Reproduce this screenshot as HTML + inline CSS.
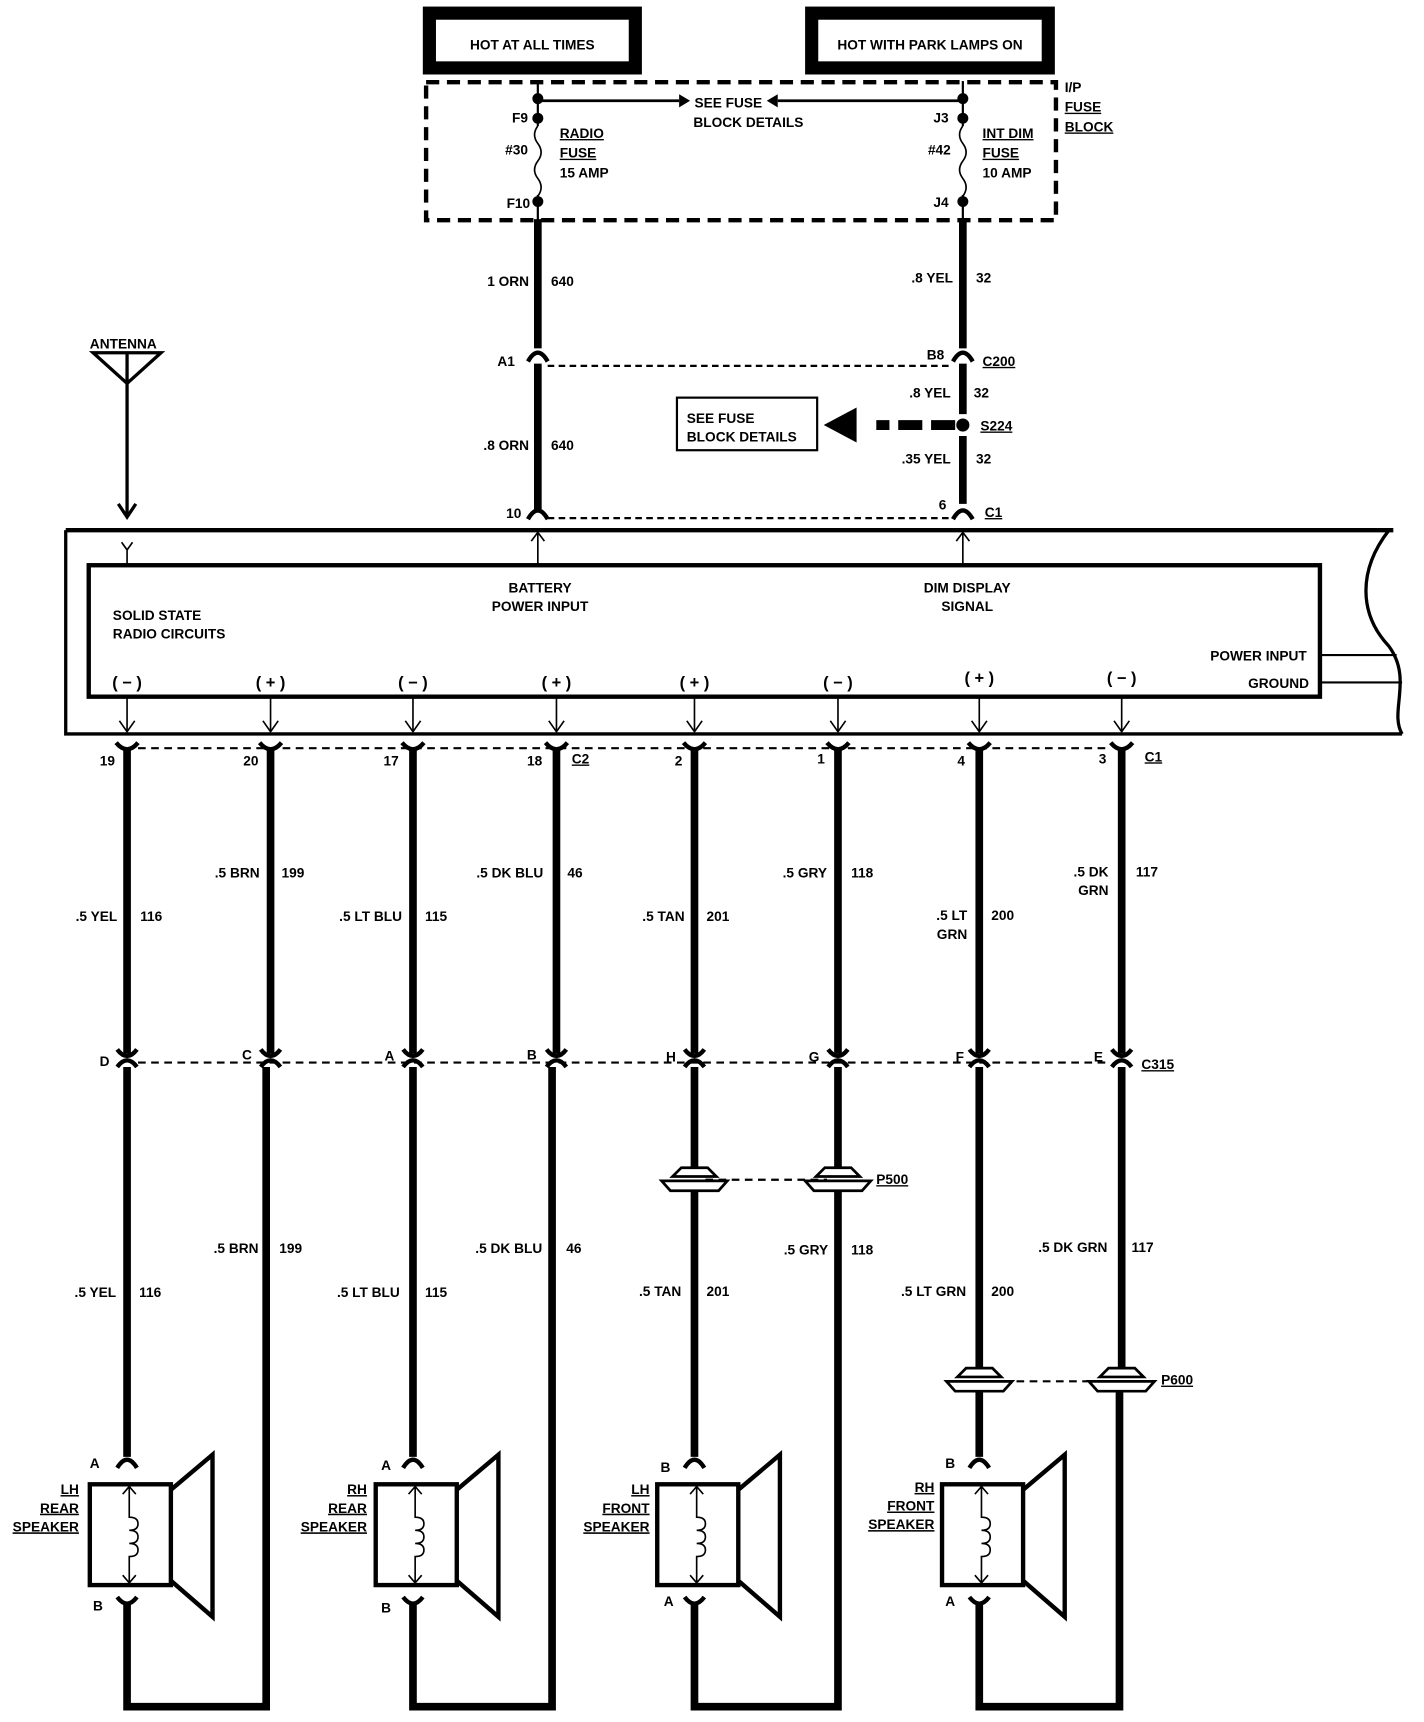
<!DOCTYPE html>
<html><head><meta charset="utf-8"><style>
html,body{margin:0;padding:0;background:#fff;}
svg{display:block;}
text{font-family:"Liberation Sans",sans-serif;font-weight:bold;font-size:12.5px;fill:#000;}
.u{text-decoration:underline;}
</style></head><body>
<svg width="1424" height="1722" viewBox="0 0 1300 1572" preserveAspectRatio="none" xmlns="http://www.w3.org/2000/svg">
<rect x="0" y="0" width="1300" height="1572" fill="#fff"/>
<!-- top boxes -->
<rect x="392" y="12" width="188" height="50" fill="none" stroke="#000" stroke-width="12"/>
<text x="486" y="45" text-anchor="middle">HOT AT ALL TIMES</text>
<rect x="741" y="12" width="216" height="50" fill="none" stroke="#000" stroke-width="12"/>
<text x="849" y="45" text-anchor="middle">HOT WITH PARK LAMPS ON</text>
<!-- fuse block -->
<rect x="389" y="75" width="575" height="126" fill="none" stroke="#000" stroke-width="4" stroke-dasharray="12,7"/>
<text x="972" y="84">I/P</text><text x="972" y="102" class="u">FUSE</text><text x="972" y="120" class="u">BLOCK</text>
<g stroke="#000" fill="none">
<line x1="491" y1="74" x2="491" y2="115" stroke-width="2"/>
<path d="M491 115 q-6 8 0 16 q6 8 0 16 q-6 8 0 16 q6 8 0 16" stroke-width="1.5"/>
<line x1="491" y1="178" x2="491" y2="202" stroke-width="2"/>
<line x1="879" y1="74" x2="879" y2="115" stroke-width="2"/>
<path d="M879 115 q-6 8 0 16 q6 8 0 16 q-6 8 0 16 q6 8 0 16" stroke-width="1.5"/>
<line x1="879" y1="178" x2="879" y2="202" stroke-width="2"/>
<line x1="491" y1="92" x2="620" y2="92" stroke-width="2.5"/>
<line x1="879" y1="92" x2="710" y2="92" stroke-width="2.5"/>
</g>
<polygon points="620,86 630,92 620,98" fill="#000"/>
<polygon points="710,86 700,92 710,98" fill="#000"/>
<g fill="#000"><circle cx="491" cy="90" r="5"/><circle cx="491" cy="108" r="5"/><circle cx="491" cy="184" r="5"/>
<circle cx="879" cy="90" r="5"/><circle cx="879" cy="108" r="5"/><circle cx="879" cy="184" r="5"/></g>
<text x="634" y="98">SEE FUSE</text><text x="633" y="116">BLOCK DETAILS</text>
<text x="482" y="112" text-anchor="end">F9</text><text x="482" y="141" text-anchor="end">#30</text><text x="484" y="190" text-anchor="end">F10</text>
<text x="511" y="126" class="u">RADIO</text><text x="511" y="144" class="u">FUSE</text><text x="511" y="162">15 AMP</text>
<text x="866" y="112" text-anchor="end">J3</text><text x="868" y="141" text-anchor="end">#42</text><text x="866" y="189" text-anchor="end">J4</text>
<text x="897" y="126" class="u">INT DIM</text><text x="897" y="144" class="u">FUSE</text><text x="897" y="162">10 AMP</text>
<!-- upper wires -->
<g stroke="#000" fill="none">
<line x1="491" y1="200" x2="491" y2="318" stroke-width="7"/>
<line x1="491" y1="332" x2="491" y2="468" stroke-width="7"/>
<line x1="879" y1="200" x2="879" y2="318" stroke-width="7"/>
<line x1="879" y1="332" x2="879" y2="378" stroke-width="7"/>
<line x1="879" y1="398" x2="879" y2="460" stroke-width="7"/>
<path d="M482 330 Q491 314 500 330" stroke-width="4"/>
<path d="M870 330 Q879 314 888 330" stroke-width="4"/>
<path d="M482 474 Q491 458 500 474" stroke-width="4"/>
<path d="M870 474 Q879 458 888 474" stroke-width="4"/>
<line x1="500" y1="334" x2="870" y2="334" stroke-width="2" stroke-dasharray="6,4"/>
<line x1="500" y1="473" x2="870" y2="473" stroke-width="2" stroke-dasharray="6,4"/>
<line x1="872" y1="388" x2="800" y2="388" stroke-width="9" stroke-dasharray="22,8"/>
<rect x="618" y="363" width="128" height="48" stroke-width="2"/>
</g>
<circle cx="879" cy="388" r="6" fill="#000"/>
<polygon points="752,388 782,372 782,404" fill="#000"/>
<text x="627" y="386">SEE FUSE</text><text x="627" y="403">BLOCK DETAILS</text>
<text x="483" y="261" text-anchor="end">1 ORN</text><text x="503" y="261">640</text>
<text x="870" y="258" text-anchor="end">.8 YEL</text><text x="891" y="258">32</text>
<text x="470" y="334" text-anchor="end">A1</text><text x="862" y="328" text-anchor="end">B8</text><text x="897" y="334" class="u">C200</text>
<text x="868" y="363" text-anchor="end">.8 YEL</text><text x="889" y="363">32</text>
<text x="895" y="393" class="u">S224</text>
<text x="868" y="423" text-anchor="end">.35 YEL</text><text x="891" y="423">32</text>
<text x="483" y="411" text-anchor="end">.8 ORN</text><text x="503" y="411">640</text>
<text x="476" y="473" text-anchor="end">10</text><text x="864" y="465" text-anchor="end">6</text><text x="899" y="472" class="u">C1</text>
<!-- antenna -->
<text x="82" y="318">ANTENNA</text>
<g stroke="#000" fill="none">
<path d="M85 322 L147 322 L116 350 Z M116 322 L116 350" stroke-width="3"/>
<line x1="116" y1="350" x2="116" y2="470" stroke-width="3"/>
<path d="M108 460 L116 472 L124 460" stroke-width="3"/>
<path d="M111 495 L116 502 L121 495 M116 502 L116 516" stroke-width="1.5"/>
<!-- radio -->
<path d="M60 484 L1272 484" stroke-width="4"/>
<path d="M60 484 L60 670 L1280 670" stroke-width="3"/>
<path d="M1268 484 C1240 520 1240 560 1268 590 C1290 620 1268 650 1280 670" stroke-width="3"/>
<rect x="81" y="516" width="1124" height="120" stroke-width="4"/>
<line x1="1205" y1="598" x2="1275" y2="598" stroke-width="2"/>
<line x1="1205" y1="623" x2="1280" y2="623" stroke-width="2"/>
<path d="M491 516 L491 486 M485 494 L491 486 L497 494" stroke-width="1.5"/>
<path d="M879 516 L879 486 M873 494 L879 486 L885 494" stroke-width="1.5"/>
</g>
<text x="493" y="541" text-anchor="middle">BATTERY</text><text x="493" y="558" text-anchor="middle">POWER INPUT</text>
<text x="883" y="541" text-anchor="middle">DIM DISPLAY</text><text x="883" y="558" text-anchor="middle">SIGNAL</text>
<text x="103" y="566">SOLID STATE</text><text x="103" y="583">RADIO CIRCUITS</text>
<text x="1193" y="603" text-anchor="end">POWER INPUT</text><text x="1195" y="628" text-anchor="end">GROUND</text>
<g font-size="15">
<text x="116" y="628" text-anchor="middle" style="font-size:15px">( − )</text>
<text x="247" y="628" text-anchor="middle" style="font-size:15px">( + )</text>
<text x="377" y="628" text-anchor="middle" style="font-size:15px">( − )</text>
<text x="508" y="628" text-anchor="middle" style="font-size:15px">( + )</text>
<text x="634" y="628" text-anchor="middle" style="font-size:15px">( + )</text>
<text x="765" y="628" text-anchor="middle" style="font-size:15px">( − )</text>
<text x="894" y="624" text-anchor="middle" style="font-size:15px">( + )</text>
<text x="1024" y="624" text-anchor="middle" style="font-size:15px">( − )</text>
</g>
<!-- lower wires -->
<g stroke="#000" fill="none">
<line x1="116" y1="636" x2="116" y2="668" stroke-width="1.5"/><path d="M109 658 L116 668 L123 658" stroke-width="1.5"/>
<line x1="247" y1="636" x2="247" y2="668" stroke-width="1.5"/><path d="M240 658 L247 668 L254 658" stroke-width="1.5"/>
<line x1="377" y1="636" x2="377" y2="668" stroke-width="1.5"/><path d="M370 658 L377 668 L384 658" stroke-width="1.5"/>
<line x1="508" y1="636" x2="508" y2="668" stroke-width="1.5"/><path d="M501 658 L508 668 L515 658" stroke-width="1.5"/>
<line x1="634" y1="636" x2="634" y2="668" stroke-width="1.5"/><path d="M627 658 L634 668 L641 658" stroke-width="1.5"/>
<line x1="765" y1="636" x2="765" y2="668" stroke-width="1.5"/><path d="M758 658 L765 668 L772 658" stroke-width="1.5"/>
<line x1="894" y1="636" x2="894" y2="668" stroke-width="1.5"/><path d="M887 658 L894 668 L901 658" stroke-width="1.5"/>
<line x1="1024" y1="636" x2="1024" y2="668" stroke-width="1.5"/><path d="M1017 658 L1024 668 L1031 658" stroke-width="1.5"/>
<line x1="126" y1="683" x2="1014" y2="683" stroke-width="2" stroke-dasharray="7,5"/>
<line x1="126" y1="970" x2="1014" y2="970" stroke-width="2" stroke-dasharray="7,5"/>
<line x1="644" y1="1077" x2="755" y2="1077" stroke-width="2" stroke-dasharray="7,5"/>
<line x1="904" y1="1261" x2="1014" y2="1261" stroke-width="2" stroke-dasharray="7,5"/>
</g>
<g id="wires" stroke="#000" fill="none">
<!-- speaker side wires -->
<path d="M116 683 L116 962 M116 974 L116 1330 M116 1462 L116 1558 L243 1558 L243 974 M247 962 L247 683" stroke-width="7"/>
<path d="M377 683 L377 962 M377 974 L377 1330 M377 1462 L377 1558 L504 1558 L504 974 M508 962 L508 683" stroke-width="7"/>
<path d="M634 683 L634 962 M634 974 L634 1068 M634 1088 L634 1330 M634 1462 L634 1558 L765 1558 L765 1088 M765 1068 L765 974 M765 962 L765 683" stroke-width="7"/>
<path d="M894 683 L894 962 M894 974 L894 1250 M894 1270 L894 1330 M894 1462 L894 1558 L1022 1558 L1022 1270 M1024 1250 L1024 974 M1024 962 L1024 683" stroke-width="7"/>
<!-- connector chevrons -->
<g stroke-width="4">
<path d="M106 678 Q116 690 126 678"/><path d="M237 678 Q247 690 257 678"/><path d="M367 678 Q377 690 387 678"/><path d="M498 678 Q508 690 518 678"/>
<path d="M624 678 Q634 690 644 678"/><path d="M755 678 Q765 690 775 678"/><path d="M884 678 Q894 690 904 678"/><path d="M1014 678 Q1024 690 1034 678"/>
<path d="M107 958 Q116 970 125 958"/><path d="M107 974 Q116 962 125 974"/>
<path d="M238 958 Q247 970 256 958"/><path d="M238 974 Q247 962 256 974"/>
<path d="M368 958 Q377 970 386 958"/><path d="M368 974 Q377 962 386 974"/>
<path d="M499 958 Q508 970 517 958"/><path d="M499 974 Q508 962 517 974"/>
<path d="M625 958 Q634 970 643 958"/><path d="M625 974 Q634 962 643 974"/>
<path d="M756 958 Q765 970 774 958"/><path d="M756 974 Q765 962 774 974"/>
<path d="M885 958 Q894 970 903 958"/><path d="M885 974 Q894 962 903 974"/>
<path d="M1015 958 Q1024 970 1033 958"/><path d="M1015 974 Q1024 962 1033 974"/>
</g>
</g>
<!-- inline connectors P500/P600 -->
<g stroke="#000" fill="#fff" stroke-width="2.5">
<path d="M614 1074 L622 1066 L646 1066 L654 1074 Z"/><path d="M604 1078 L664 1078 L656 1087 L612 1087 Z"/>
<path d="M745 1074 L753 1066 L777 1066 L785 1074 Z"/><path d="M735 1078 L795 1078 L787 1087 L743 1087 Z"/>
<path d="M874 1257 L882 1249 L906 1249 L914 1257 Z"/><path d="M864 1261 L924 1261 L916 1270 L872 1270 Z"/>
<path d="M1004 1257 L1012 1249 L1036 1249 L1044 1257 Z"/><path d="M994 1261 L1054 1261 L1046 1270 L1002 1270 Z"/>
</g>
<text x="800" y="1081" class="u">P500</text><text x="1060" y="1264" class="u">P600</text>
<!-- connector labels -->
<text x="105" y="699" text-anchor="end">19</text><text x="236" y="699" text-anchor="end">20</text><text x="364" y="699" text-anchor="end">17</text><text x="495" y="699" text-anchor="end">18</text><text x="522" y="697" class="u">C2</text>
<text x="623" y="699" text-anchor="end">2</text><text x="753" y="697" text-anchor="end">1</text><text x="881" y="699" text-anchor="end">4</text><text x="1010" y="697" text-anchor="end">3</text><text x="1045" y="695" class="u">C1</text>
<text x="100" y="973" text-anchor="end">D</text><text x="230" y="967" text-anchor="end">C</text><text x="360" y="968" text-anchor="end">A</text><text x="490" y="967" text-anchor="end">B</text>
<text x="617" y="969" text-anchor="end">H</text><text x="748" y="969" text-anchor="end">G</text><text x="880" y="969" text-anchor="end">F</text><text x="1007" y="969" text-anchor="end">E</text><text x="1042" y="976" class="u">C315</text>
<!-- wire labels -->
<text x="107" y="841" text-anchor="end">.5 YEL</text><text x="128" y="841">116</text>
<text x="237" y="801" text-anchor="end">.5 BRN</text><text x="257" y="801">199</text>
<text x="367" y="841" text-anchor="end">.5 LT BLU</text><text x="388" y="841">115</text>
<text x="496" y="801" text-anchor="end">.5 DK BLU</text><text x="518" y="801">46</text>
<text x="625" y="841" text-anchor="end">.5 TAN</text><text x="645" y="841">201</text>
<text x="755" y="801" text-anchor="end">.5 GRY</text><text x="777" y="801">118</text>
<text x="883" y="840" text-anchor="end">.5 LT</text><text x="883" y="857" text-anchor="end">GRN</text><text x="905" y="840">200</text>
<text x="1012" y="800" text-anchor="end">.5 DK</text><text x="1012" y="817" text-anchor="end">GRN</text><text x="1037" y="800">117</text>
<text x="236" y="1144" text-anchor="end">.5 BRN</text><text x="255" y="1144">199</text>
<text x="495" y="1144" text-anchor="end">.5 DK BLU</text><text x="517" y="1144">46</text>
<text x="756" y="1145" text-anchor="end">.5 GRY</text><text x="777" y="1145">118</text>
<text x="1011" y="1143" text-anchor="end">.5 DK GRN</text><text x="1033" y="1143">117</text>
<text x="106" y="1184" text-anchor="end">.5 YEL</text><text x="127" y="1184">116</text>
<text x="365" y="1184" text-anchor="end">.5 LT BLU</text><text x="388" y="1184">115</text>
<text x="622" y="1183" text-anchor="end">.5 TAN</text><text x="645" y="1183">201</text>
<text x="882" y="1183" text-anchor="end">.5 LT GRN</text><text x="905" y="1183">200</text>
<!-- speakers -->
<g stroke="#000" fill="none">
<g id="spk">
<path d="M107 1340 Q116 1325 125 1340" stroke-width="4"/>
<path d="M107 1458 Q116 1470 125 1458" stroke-width="4"/>
<rect x="82" y="1355" width="74" height="92" stroke-width="4"/>
<path d="M156 1360 L194 1328 L194 1476 L156 1443" stroke-width="4"/>
<path d="M118 1357 L118 1385 q8 0 8 6 q0 6 -8 6 q8 0 8 6 q0 6 -8 6 q8 0 8 6 q0 6 -8 6 L118 1445 M112 1364 L118 1357 L124 1364 M112 1438 L118 1445 L124 1438" stroke-width="1.5"/>
</g>
<use href="#spk" x="261"/>
<use href="#spk" x="518"/>
<use href="#spk" x="778"/>
</g>
<text x="91" y="1340" text-anchor="end">A</text><text x="94" y="1470" text-anchor="end">B</text>
<text x="357" y="1342" text-anchor="end">A</text><text x="357" y="1472" text-anchor="end">B</text>
<text x="612" y="1344" text-anchor="end">B</text><text x="615" y="1466" text-anchor="end">A</text>
<text x="872" y="1340" text-anchor="end">B</text><text x="872" y="1466" text-anchor="end">A</text>
<g class="u">
<text x="72" y="1364" text-anchor="end" class="u">LH</text><text x="72" y="1381" text-anchor="end" class="u">REAR</text><text x="72" y="1398" text-anchor="end" class="u">SPEAKER</text>
<text x="335" y="1364" text-anchor="end" class="u">RH</text><text x="335" y="1381" text-anchor="end" class="u">REAR</text><text x="335" y="1398" text-anchor="end" class="u">SPEAKER</text>
<text x="593" y="1364" text-anchor="end" class="u">LH</text><text x="593" y="1381" text-anchor="end" class="u">FRONT</text><text x="593" y="1398" text-anchor="end" class="u">SPEAKER</text>
<text x="853" y="1362" text-anchor="end" class="u">RH</text><text x="853" y="1379" text-anchor="end" class="u">FRONT</text><text x="853" y="1396" text-anchor="end" class="u">SPEAKER</text>
</g>
</svg>
</body></html>
